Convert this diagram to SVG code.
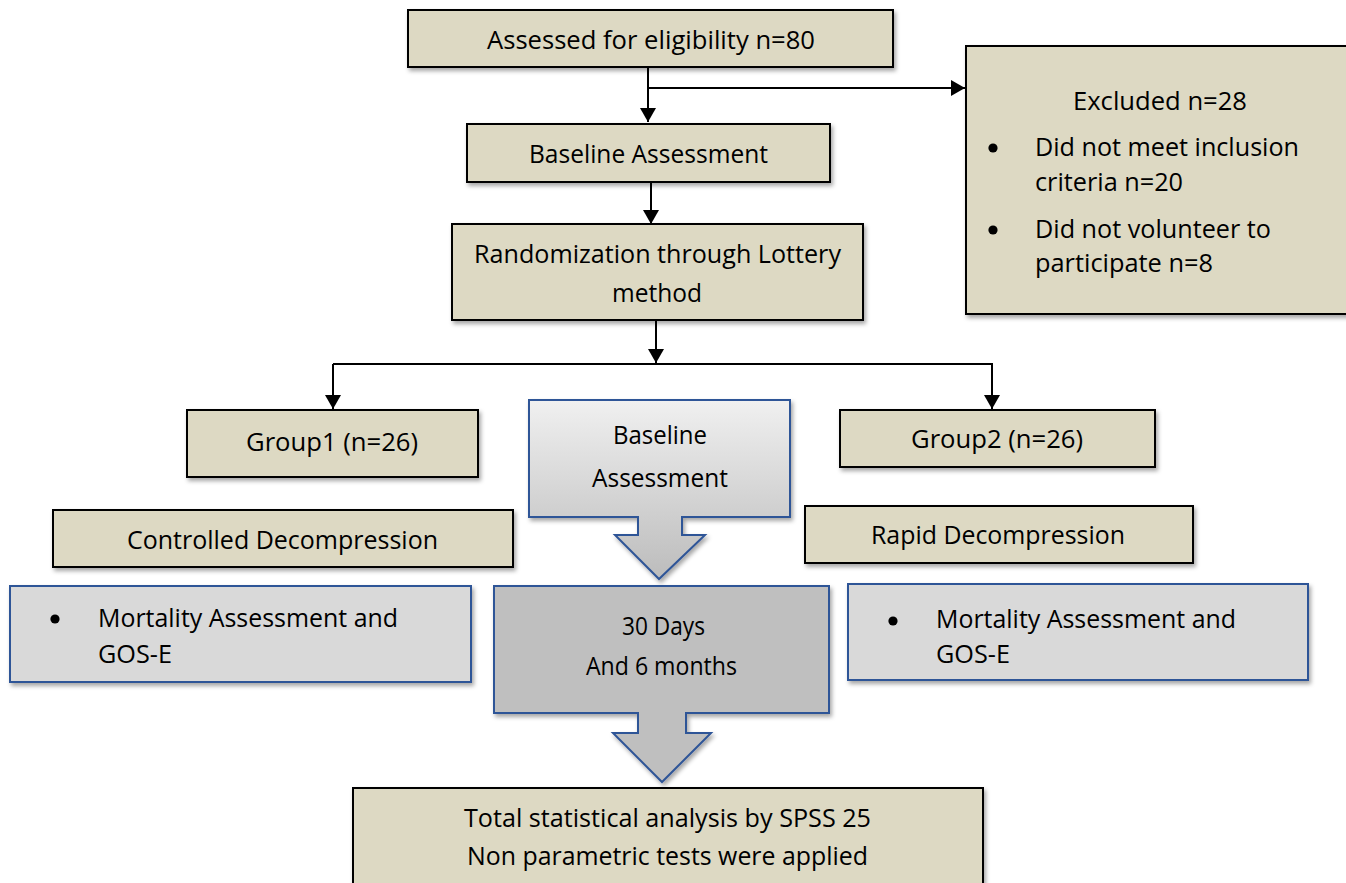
<svg xmlns="http://www.w3.org/2000/svg" width="1346" height="883" viewBox="0 0 1346 883">
<style>
.tan{fill:#ddd9c3;stroke:#000;stroke-width:2;filter:url(#sh)}
.gry{fill:#d9d9d9;stroke:#2f5597;stroke-width:2;filter:url(#sh)}
.t{font-family:"Open Sans","Noto Sans","DejaVu Sans",sans-serif;font-size:25px;fill:#000}
.ln{fill:none;stroke:#000;stroke-width:2}
.bul{fill:#000}
</style>
<defs>
<filter id="sh" x="-10%" y="-10%" width="130%" height="140%">
<feDropShadow dx="2" dy="3" stdDeviation="2" flood-color="#000" flood-opacity="0.35"/>
</filter>
<linearGradient id="g1" x1="0" y1="0" x2="0" y2="1">
<stop offset="0" stop-color="#f0f0f0"/>
<stop offset="1" stop-color="#bcbcbc"/>
</linearGradient>
<marker id="ah" viewBox="0 0 14 16" refX="14" refY="8" markerWidth="14" markerHeight="16" markerUnits="userSpaceOnUse" orient="auto">
<path d="M0,0 L14,8 L0,16 z" fill="#000"/>
</marker>
</defs>

<g id="connectors">
<line class="ln" x1="648" y1="67" x2="648" y2="122" marker-end="url(#ah)"/>
<line class="ln" x1="648" y1="88" x2="965" y2="88" stroke-width="1.5" marker-end="url(#ah)"/>
<line class="ln" x1="651" y1="182" x2="651" y2="224" marker-end="url(#ah)"/>
<line class="ln" x1="656" y1="320" x2="656" y2="363" marker-end="url(#ah)"/>
<polyline class="ln" points="333,364 992,364 992,409" marker-end="url(#ah)"/>
<line class="ln" x1="333" y1="364" x2="333" y2="409" marker-end="url(#ah)"/>
</g>

<g id="n-assessed">
<rect class="tan" x="408" y="10" width="485" height="57"/>
<text class="t" x="487" y="49" textLength="328" lengthAdjust="spacingAndGlyphs">Assessed for eligibility n=80</text>
</g>

<g id="n-baseline1">
<rect class="tan" x="467" y="124" width="363" height="58"/>
<text class="t" x="529" y="163" textLength="239" lengthAdjust="spacingAndGlyphs">Baseline Assessment</text>
</g>

<g id="n-random">
<rect class="tan" x="452" y="224" width="411" height="96"/>
<text class="t" x="474" y="263" textLength="367" lengthAdjust="spacingAndGlyphs">Randomization through Lottery</text>
<text class="t" x="612" y="302" textLength="90" lengthAdjust="spacingAndGlyphs">method</text>
</g>

<g id="n-excluded">
<rect class="tan" x="966" y="46" width="400" height="268"/>
<text class="t" x="1073" y="110" textLength="174" lengthAdjust="spacingAndGlyphs">Excluded n=28</text>
<circle class="bul" cx="993" cy="148" r="4.6"/>
<text class="t" x="1035" y="156" textLength="264" lengthAdjust="spacingAndGlyphs">Did not meet inclusion</text>
<text class="t" x="1035" y="191" textLength="148" lengthAdjust="spacingAndGlyphs">criteria n=20</text>
<circle class="bul" cx="993" cy="230" r="4.6"/>
<text class="t" x="1035" y="238" textLength="236" lengthAdjust="spacingAndGlyphs">Did not volunteer to</text>
<text class="t" x="1035" y="272" textLength="178" lengthAdjust="spacingAndGlyphs">participate n=8</text>
</g>

<g id="n-group1">
<rect class="tan" x="187" y="410" width="291" height="67"/>
<text class="t" x="246" y="451" textLength="172" lengthAdjust="spacingAndGlyphs">Group1 (n=26)</text>
</g>

<g id="n-group2">
<rect class="tan" x="840" y="410" width="315" height="57"/>
<text class="t" x="911" y="448" textLength="172" lengthAdjust="spacingAndGlyphs">Group2 (n=26)</text>
</g>

<g id="n-baseline2">
<path d="M529,400 H790 V517 H682 V535 H705 L659,579 L615,535 H638 V517 H529 Z" fill="url(#g1)" stroke="#2f5597" stroke-width="2" filter="url(#sh)"/>
<text class="t" x="613" y="444" textLength="94" lengthAdjust="spacingAndGlyphs">Baseline</text>
<text class="t" x="592" y="487" textLength="136" lengthAdjust="spacingAndGlyphs">Assessment</text>
</g>

<g id="n-controlled">
<rect class="tan" x="53" y="510" width="460" height="57"/>
<text class="t" x="127" y="549" textLength="311" lengthAdjust="spacingAndGlyphs">Controlled Decompression</text>
</g>

<g id="n-rapid">
<rect class="tan" x="805" y="506" width="388" height="57"/>
<text class="t" x="871" y="544" textLength="254" lengthAdjust="spacingAndGlyphs">Rapid Decompression</text>
</g>

<g id="n-mortality1">
<rect class="gry" x="10" y="586" width="461" height="96"/>
<circle class="bul" cx="55" cy="619" r="4.6"/>
<text class="t" x="98" y="627" textLength="300" lengthAdjust="spacingAndGlyphs">Mortality Assessment and</text>
<text class="t" x="98" y="663" textLength="74" lengthAdjust="spacingAndGlyphs">GOS-E</text>
</g>

<g id="n-followup">
<path d="M494,586 H829 V713 H686 V733 H711 L662,782 L613,733 H638 V713 H494 Z" fill="#bfbfbf" stroke="#2f5597" stroke-width="2" filter="url(#sh)"/>
<text class="t" x="622" y="635" textLength="83" lengthAdjust="spacingAndGlyphs">30 Days</text>
<text class="t" x="586" y="675" textLength="151" lengthAdjust="spacingAndGlyphs">And 6 months</text>
</g>

<g id="n-mortality2">
<rect class="gry" x="848" y="584" width="460" height="96"/>
<circle class="bul" cx="893" cy="621" r="4.6"/>
<text class="t" x="936" y="628" textLength="300" lengthAdjust="spacingAndGlyphs">Mortality Assessment and</text>
<text class="t" x="936" y="663" textLength="74" lengthAdjust="spacingAndGlyphs">GOS-E</text>
</g>

<g id="n-stats">
<rect class="tan" x="353" y="788" width="630" height="120"/>
<text class="t" x="464" y="827" textLength="407" lengthAdjust="spacingAndGlyphs">Total statistical analysis by SPSS 25</text>
<text class="t" x="467" y="865" textLength="401" lengthAdjust="spacingAndGlyphs">Non parametric tests were applied</text>
</g>
</svg>
